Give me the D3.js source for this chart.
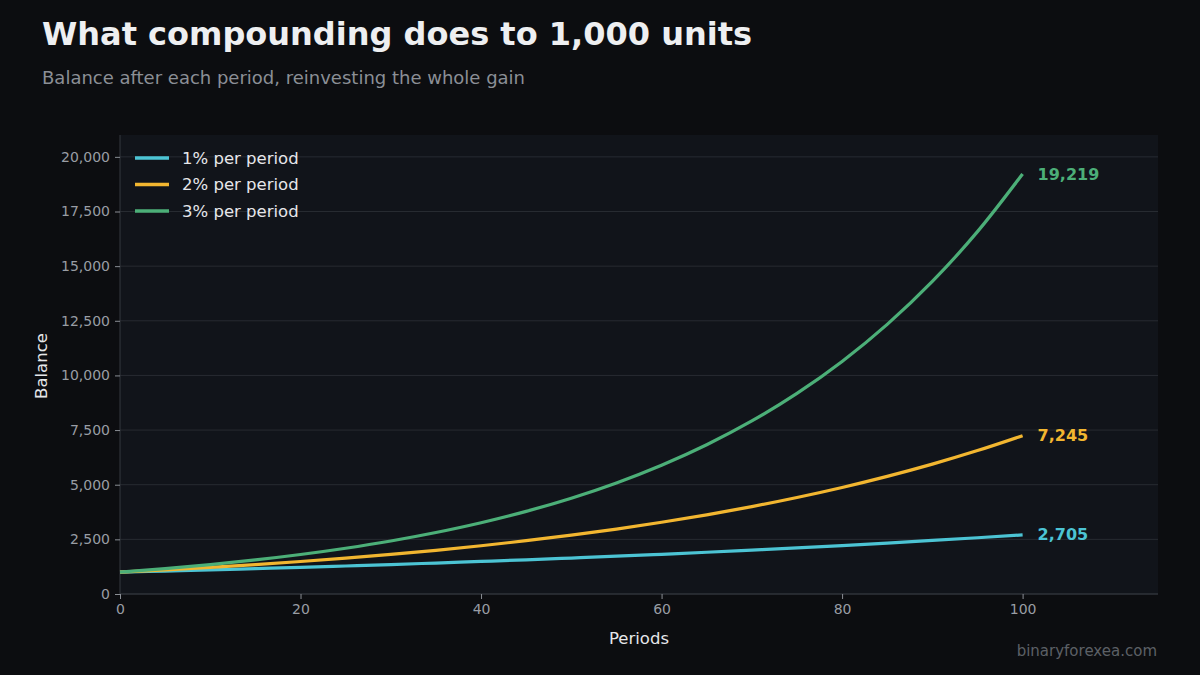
<!DOCTYPE html>
<html>
<head>
<meta charset="utf-8">
<script src="https://cdn.jsdelivr.net/npm/d3@7"></script>
<style>
  html, body { margin: 0; padding: 0; background: #0c0d10; }
  svg { display: block; font-family: "DejaVu Sans", sans-serif; }
</style>
</head>
<body>
<div id="chart"></div>
<script>
const periods = [0, 5, 10, 15, 20, 25, 30, 35, 40, 45, 50, 55, 60, 65, 70, 75, 80, 85, 90, 95, 100];
const rate1 = [1000, 1051, 1105, 1161, 1220, 1282, 1348, 1417, 1489, 1565, 1645, 1729, 1817, 1909, 2007, 2109, 2217, 2330, 2449, 2574, 2705];
const rate2 = [1000, 1104, 1219, 1346, 1486, 1641, 1811, 2000, 2208, 2438, 2692, 2972, 3281, 3623, 4000, 4416, 4875, 5383, 5943, 6562, 7245];
const rate3 = [1000, 1159, 1344, 1558, 1806, 2094, 2427, 2814, 3262, 3782, 4384, 5082, 5892, 6830, 7918, 9179, 10641, 12336, 14300, 16578, 19219];
const seriesNames = ["1% per period", "2% per period", "3% per period"];
const colors = ["#4cc4d4", "#f2b630", "#4caf78"];
const xTicks = [0, 20, 40, 60, 80, 100];
const yTicks = [0, 2500, 5000, 7500, 10000, 12500, 15000, 17500, 20000];

const series = [rate1, rate2, rate3].map((vals, i) => ({
    name: seriesNames[i],
    color: colors[i],
    values: vals.map((v, j) => ({ p: periods[j], v: v }))
}));

const W = 1200, H = 675;
const margin = { top: 135, right: 42, bottom: 81, left: 120 };
const width = W - margin.left - margin.right;
const height = H - margin.top - margin.bottom;

const svg = d3.select("#chart").append("svg")
    .attr("width", W)
    .attr("height", H);

svg.append("rect").attr("width", W).attr("height", H).attr("fill", "#0c0d10");

// title + subtitle
svg.append("text")
    .attr("x", 42).attr("y", 45)
    .attr("font-size", 32).attr("font-weight", "bold")
    .attr("fill", "#eeeff1")
    .text("What compounding does to 1,000 units");

svg.append("text")
    .attr("x", 42).attr("y", 84)
    .attr("font-size", 18)
    .attr("fill", "#8b8f96")
    .text("Balance after each period, reinvesting the whole gain");

const g = svg.append("g")
    .attr("transform", "translate(" + margin.left + "," + margin.top + ")");

g.append("rect")
    .attr("width", width).attr("height", height)
    .attr("fill", "#11141a");

// scales
const x = d3.scaleLinear().domain([0, 115]).range([0, width]);
const y = d3.scaleLinear().domain([0, 21000]).range([height, 0]);

// gridlines
g.append("g")
    .selectAll("line")
    .data(yTicks)
    .join("line")
    .attr("x1", 0).attr("x2", width)
    .attr("y1", d => y(d)).attr("y2", d => y(d))
    .attr("stroke", "#272b31")
    .attr("stroke-width", 1);

// axes
const xAxis = d3.axisBottom(x).tickValues(xTicks).tickSize(5).tickPadding(5);
const yAxis = d3.axisLeft(y).tickValues(yTicks).tickSize(5).tickPadding(5).tickFormat(d3.format(","));

const xg = g.append("g")
    .attr("transform", "translate(0," + height + ")")
    .call(xAxis);
const yg = g.append("g").call(yAxis);

[xg, yg].forEach(ax => {
    ax.select(".domain").attr("stroke", "#34383e");
    ax.selectAll(".tick line").attr("stroke", "#8a8e94");
    ax.selectAll(".tick text")
        .attr("fill", "#999da4")
        .attr("font-size", 14)
        .attr("font-family", "DejaVu Sans, sans-serif");
});
yg.select(".domain").attr("d", "M0," + height + "V0");
xg.select(".domain").attr("d", "M0,0H" + width);

// axis labels
g.append("text")
    .attr("x", width * 0.5)
    .attr("y", height + 50)
    .attr("text-anchor", "middle")
    .attr("font-size", 16.5)
    .attr("fill", "#e6e7ea")
    .text("Periods");

g.append("text")
    .attr("transform", "rotate(-90)")
    .attr("x", -(366 - margin.top))
    .attr("y", -73)
    .attr("text-anchor", "middle")
    .attr("font-size", 16.5)
    .attr("fill", "#e6e7ea")
    .text("Balance");

// lines
const line = d3.line()
    .x(d => x(d.p))
    .y(d => y(d.v))
    .curve(d3.curveMonotoneX);

g.selectAll(".series")
    .data(series)
    .join("path")
    .attr("class", "series")
    .attr("fill", "none")
    .attr("stroke", d => d.color)
    .attr("stroke-width", 3.2)
    .attr("d", d => line(d.values));

// end labels
g.selectAll(".end-label")
    .data(series)
    .join("text")
    .attr("class", "end-label")
    .attr("x", d => x(d.values[d.values.length - 1].p) + 15)
    .attr("y", d => y(d.values[d.values.length - 1].v))
    .attr("dy", "0.35em")
    .attr("font-size", 16)
    .attr("font-weight", "bold")
    .attr("fill", d => d.color)
    .text(d => d3.format(",")(d.values[d.values.length - 1].v));

// legend
const legend = g.append("g").attr("transform", "translate(15,23)");
const rows = legend.selectAll("g")
    .data(series)
    .join("g")
    .attr("transform", (d, i) => "translate(0," + (i * 26.5) + ")");
rows.append("line")
    .attr("x1", 0).attr("x2", 34)
    .attr("stroke", d => d.color)
    .attr("stroke-width", 3.5);
rows.append("text")
    .attr("x", 47)
    .attr("dy", "0.35em")
    .attr("font-size", 16.5)
    .attr("fill", "#e6e7ea")
    .text(d => d.name);

// watermark
svg.append("text")
    .attr("x", 1157).attr("y", 656)
    .attr("text-anchor", "end")
    .attr("font-size", 15)
    .attr("fill", "#5c6066")
    .text("binaryforexea.com");
</script>
</body>
</html>
